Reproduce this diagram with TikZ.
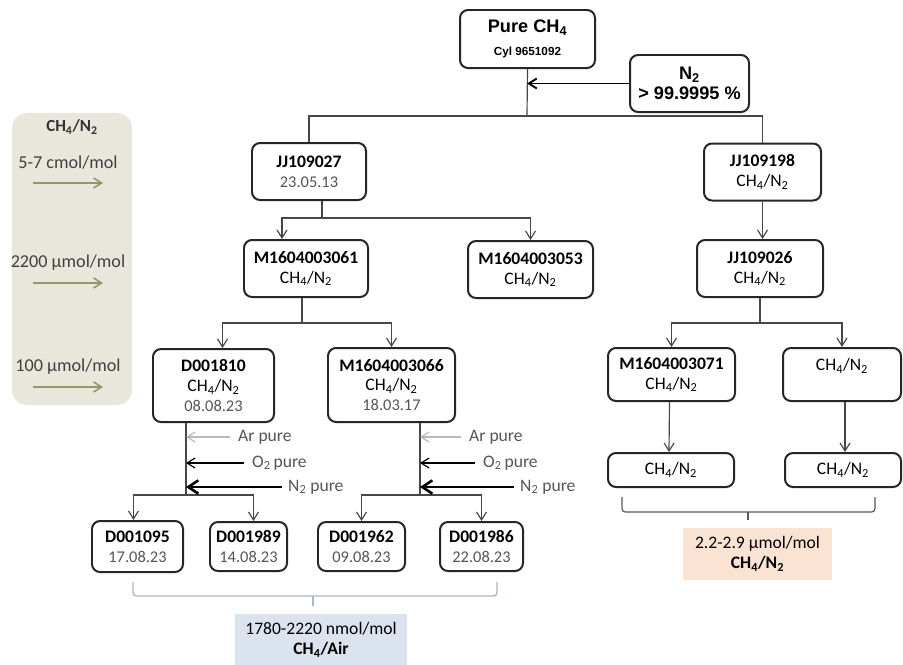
\documentclass[tikz,border=0pt]{standalone}
\usepackage{fontspec}
\setmainfont{Carlito}
\newfontfamily\arialfont{Liberation Sans}
\usetikzlibrary{arrows.meta, calc}

\definecolor{legendfill}{HTML}{E9E7DC}
\definecolor{legendarrow}{HTML}{979467}
\definecolor{airfill}{HTML}{DAE3EE}
\definecolor{airbrace}{HTML}{A9B9CA}
\definecolor{nitrofill}{HTML}{FBE3D3}
\definecolor{greytext}{HTML}{555555}

\newcommand{\when}[1]{{\fontsize{14}{16}\selectfont\color{greytext}#1}}
\newcommand{\chn}{CH\textsubscript{4}/N\textsubscript{2}}

\begin{document}
\begin{tikzpicture}[
    x=0.03cm, y=-0.03cm,
    font=\fontsize{15}{17}\selectfont,
    >={Straight Barb[length=2.4mm, width=3mm]},
    vial/.style={
        rectangle,
        draw=black!85,
        line width=1.7pt,
        rounded corners=2.4mm,
        align=center,
        inner sep=0pt,
        fill=white
    },
    flow/.style={draw=black!72, line width=1pt},
    gas/.style={text=greytext, anchor=west, inner sep=0pt},
    keyarrow/.style={draw=legendarrow, line width=1.3pt, ->},
    result/.style={
        rectangle,
        align=center,
        inner sep=0pt
    }
]
\useasboundingbox (0,0) rectangle (903,664);

% legend on the left
\node[rounded corners=4.5mm, fill=legendfill, minimum width=3.6cm, minimum height=8.76cm, inner sep=0pt] (legend) at (72,259) {};
\node[font=\bfseries\fontsize{14.5}{16}\selectfont, text=black!80] (keyhead) at (72,127) {\chn};
\node[text=black!75, font=\fontsize{15.5}{17}\selectfont] (keyhigh) at (68,163) {5-7 cmol/mol};
\node[text=black!75, font=\fontsize{15.5}{17}\selectfont] (keymid) at (68,263) {2200 µmol/mol};
\node[text=black!75, font=\fontsize{15.5}{17}\selectfont] (keylow) at (68,367) {100 µmol/mol};
\foreach \k in {keyhigh, keymid, keylow}
    \draw[keyarrow] ($(\k.center)+(-35,20)$) -- ++(70,0);

% top: pure methane and nitrogen
\node[vial, minimum width=4.05cm, minimum height=1.74cm, font=\arialfont\bfseries] (pure) at (527.5,39)
    {{\fontsize{15.5}{18}\selectfont Pure CH\textsubscript{4}}\\[2.6mm]{\fontsize{10}{12}\selectfont Cyl 9651092}};
\node[vial, minimum width=3.57cm, minimum height=1.71cm, font=\arialfont\bfseries\fontsize{15.5}{17}\selectfont] (nitro) at (689.5,83.5)
    {N\textsubscript{2}\\> 99.9995 \%};

\coordinate (split0) at (527,116);
\draw[flow] (pure.south) -- (split0);
\draw[line width=1.6pt, ->] (nitro.west) -- (nitro.west -| split0);

% first dilution
\node[vial, minimum width=3.42cm, minimum height=1.71cm] (jj027) at (309,171.5) {\textbf{JJ109027}\\\when{23.05.13}};
\node[vial, minimum width=3.51cm, minimum height=1.71cm] (jj198) at (762.5,172) {\textbf{JJ109198}\\\chn};
\draw[flow] (jj027.north) |- (split0) -| (jj198.north);

% second dilution
\node[vial, minimum width=3.72cm, minimum height=1.71cm] (m061) at (306,268.5) {\textbf{M1604003061}\\\chn};
\node[vial, minimum width=3.75cm, minimum height=1.71cm] (m053) at (530.5,269.5) {\textbf{M1604003053}\\\chn};
\node[vial, minimum width=3.78cm, minimum height=1.71cm] (jj026) at (760,268.5) {\textbf{JJ109026}\\\chn};

\coordinate (split1) at (322,218);
\draw[flow] (jj027.south -| split1) -- (split1);
\draw[flow, ->] (split1) -| ($(m061.north)+(-24,0)$);
\draw[flow, ->] (split1) -| (m053.north);
\draw[flow, ->] (jj198.south) -- (jj198.south |- jj026.north);

% third dilution
\node[vial, minimum width=3.63cm, minimum height=2.19cm] (d810) at (213.5,385.5) {\textbf{D001810}\\\chn\\\when{08.08.23}};
\node[vial, minimum width=3.81cm, minimum height=2.22cm] (m066) at (391.5,385) {\textbf{M1604003066}\\\chn\\\when{18.03.17}};
\node[vial, minimum width=3.81cm, minimum height=1.59cm] (m071) at (671.5,374.5) {\textbf{M1604003071}\\\chn};
\node[vial, minimum width=3.54cm, minimum height=1.59cm] (ch4a) at (842,374.5) {\chn\\\phantom{X}};

\coordinate (split2) at (302,323);
\draw[flow] (m061.south -| split2) -- (split2);
\draw[flow, ->] (split2) -| ($(d810.north)+(9,0)$);
\draw[flow, ->] (split2) -| (m066.north);

\coordinate (split5) at (760,323);
\draw[flow] (jj026.south) -- (split5);
\draw[flow, ->] (split5) -| (m071.north);
\draw[flow, ->] (split5) -| (ch4a.north);

% low range on the right
\node[vial, minimum width=3.78cm, minimum height=1.02cm] (ch4b) at (671,470) {\chn};
\node[vial, minimum width=3.48cm, minimum height=1.02cm] (ch4c) at (843,470) {\chn};
\draw[flow, ->] ($(m071.south)+(-2,0)$) -- ($(ch4b.north)+(-2,0)$);
\draw[flow, ->] ($(ch4a.south)+(3,0)$) -- ($(ch4c.north)+(2,0)$);

% air blends
\node[vial, minimum width=2.73cm, minimum height=1.53cm] (d095) at (137.5,546.5) {\textbf{D001095}\\\when{17.08.23}};
\node[vial, minimum width=2.31cm, minimum height=1.47cm] (d989) at (248.5,546.5) {\textbf{D001989}\\\when{14.08.23}};
\node[vial, minimum width=2.61cm, minimum height=1.47cm] (d962) at (361.5,546.5) {\textbf{D001962}\\\when{09.08.23}};
\node[vial, minimum width=2.49cm, minimum height=1.47cm] (d986) at (481.5,546.5) {\textbf{D001986}\\\when{22.08.23}};

\coordinate (split3) at (186,495);
\coordinate (split4) at (420,495);
\draw[flow] (d810.south -| split3) -- (split3);
\draw[flow, ->] (split3) -| ($(d095.north)+(-4,0)$);
\draw[flow, ->] (split3) -| ($(d989.north)+(5,0)$);
\draw[flow] (m066.south -| split4) -- (split4);
\draw[flow, ->] (split4) -| (d962.north);
\draw[flow, ->] (split4) -| (d986.north);

% pure gases added to the mixtures
\node[gas] (ar1) at (238,437) {Ar pure};
\node[gas] (ox1) at (252,463) {O\textsubscript{2}\,pure};
\node[gas] (ni1) at (288,487) {N\textsubscript{2} pure};
\node[gas] (ar2) at (469,437) {Ar pure};
\node[gas] (ox2) at (483,463) {O\textsubscript{2}\,pure};
\node[gas] (ni2) at (520,487) {N\textsubscript{2} pure};
\draw[gray!55, line width=1pt, ->] ($(ar1.west)+(-8,0)$) -- (ar1.west -| split3);
\draw[black, line width=1pt, ->] ($(ox1.west)+(-8,0)$) -- (ox1.west -| split3);
\draw[black, line width=2.2pt, -{Straight Barb[length=3mm, width=4mm]}] ($(ni1.west)+(-6,0)$) -- (ni1.west -| split3);
\draw[gray!55, line width=1pt, ->] ($(ar2.west)+(-8,0)$) -- (ar2.west -| split4);
\draw[black, line width=1pt, ->] ($(ox2.west)+(-8,0)$) -- (ox2.west -| split4);
\draw[black, line width=2.2pt, -{Straight Barb[length=3mm, width=4mm]}] ($(ni2.west)+(-6,0)$) -- (ni2.west -| split4);

% grouping brackets and results
\coordinate (airL) at (133,582);
\coordinate (airM) at (313,596);
\coordinate (airR) at (497,582);
\draw[airbrace, line width=1.2pt, rounded corners=1mm] (airL) |- (airM) -| (airR);
\draw[airbrace, line width=1.2pt] (airM) -- ++(0,10);
\node[result, fill=airfill, minimum width=5.16cm, minimum height=1.56cm] (air) at (321,640)
    {1780-2220 nmol/mol\\\textbf{CH\textsubscript{4}/Air}};

\coordinate (lowL) at (622,497);
\coordinate (lowM) at (748,512);
\coordinate (lowR) at (875,497);
\draw[black!65, line width=1pt, rounded corners=1mm] (lowL) |- (lowM) -| (lowR);
\draw[black!65, line width=1pt] (lowM) -- ++(0,8);
\node[result, fill=nitrofill, minimum width=4.47cm, minimum height=1.56cm] (low) at (757.5,554)
    {2.2-2.9 µmol/mol\\\textbf{\chn}};

\end{tikzpicture}
\end{document}
